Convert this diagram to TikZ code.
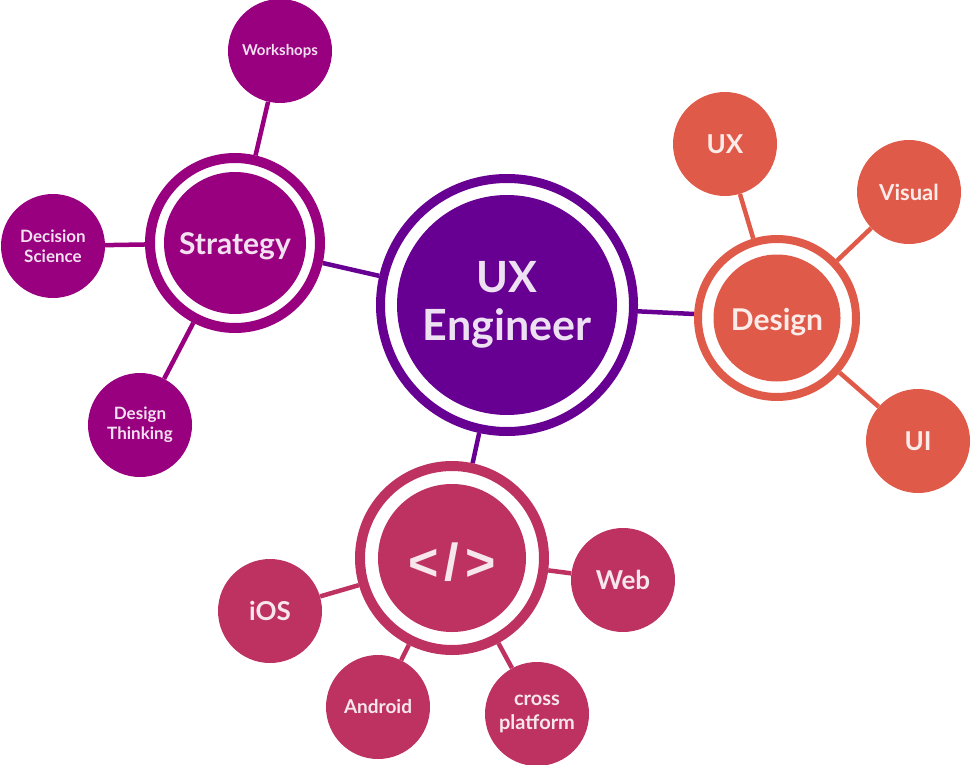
\documentclass[tikz,border=0pt]{standalone}
\usepackage{fontspec}
\setmainfont{Lato}
\newfontfamily\codefont{Liberation Sans}
\usetikzlibrary{backgrounds}
\definecolor{uxpur}{HTML}{670092}
\definecolor{stratmag}{HTML}{99007F}
\definecolor{designred}{HTML}{E05A4A}
\definecolor{codepink}{HTML}{BE3261}
\newcommand{\fs}[1]{\bfseries\fontsize{#1}{1.17\dimexpr#1pt\relax}\selectfont}
\newcommand{\dropby}[2]{\raisebox{-#1}[\height][\depth]{#2}}

\begin{document}
\begin{tikzpicture}[x=1pt, y=-1pt,
    ring/.style={circle, draw=#1, line width=9pt, fill=white, inner sep=0pt},
    core/.style={circle, fill=#1, inner sep=0pt, text=white!88!#1, align=center},
    leaf/.style={circle, fill=#1, inner sep=0pt, minimum size=104pt, text=white!88!#1, align=center},
    link/.style={draw=#1, line width=4.5pt}]
  \useasboundingbox (0,0) rectangle (971,765);

  % hubs
  \node[ring=uxpur, minimum size=253pt] (UX) at (507,305) {};
  \node[core=uxpur, minimum size=220pt, font=\fs{43}] (UXc) at (UX) {UX\\[-2pt]Engineer};

  \node[ring=stratmag, line width=10pt, minimum size=170pt] (S) at (235,243) {};
  \node[core=stratmag, minimum size=142pt, font=\fs{30}] (Sc) at (S) {\dropby{3pt}{Strategy}};

  \node[ring=designred, line width=8pt, minimum size=158pt] (D) at (777,318) {};
  \node[core=designred, minimum size=127pt, font=\fs{30}] (Dc) at (D) {\dropby{4pt}{Design}};

  \node[ring=codepink, line width=10pt, minimum size=184pt] (C) at (452,558) {};
  \node[core=codepink, minimum size=148pt, font=\codefont\fs{52}] (Cc) at (C)
    {\dropby{4pt}{<\hspace{6pt}/\hspace{6pt}>}};

  % leaves
  \node[leaf=stratmag, font=\fs{15}] (Sw) at (280,51) {Workshops};
  \node[leaf=stratmag, font=\fs{17}] (Sd) at (53,246) {Decision\\Science};
  \node[leaf=stratmag, font=\fs{17}] (St) at (140,425) {Design\\Thinking};

  \node[leaf=designred, font=\fs{26}] (Dx) at (725,144) {UX};
  \node[leaf=designred, font=\fs{22}] (Dv) at (909,192) {Visual};
  \node[leaf=designred, font=\fs{26}] (Du) at (918,441) {UI};

  \node[leaf=codepink, font=\fs{26}] (Ci) at (270,611) {iOS};
  \node[leaf=codepink, font=\fs{19}] (Ca) at (378,707) {Android};
  \node[leaf=codepink, font=\fs{20}] (Cx) at (537,714) {cross\\platform};
  \node[leaf=codepink, font=\fs{26}] (Cw) at (623,580) {Web};

  \begin{pgfonlayer}{background}
    \draw[link=uxpur] (UX) -- (S);
    \draw[link=uxpur] (UX) -- (D);
    \draw[link=uxpur] (UX) -- (C);
    \foreach \leafnode in {Sw,Sd,St}
      \draw[link=stratmag] (S) -- (\leafnode);
    \foreach \leafnode in {Dx,Dv,Du}
      \draw[link=designred] (D) -- (\leafnode);
    \foreach \leafnode in {Ci,Ca,Cx,Cw}
      \draw[link=codepink] (C) -- (\leafnode);
  \end{pgfonlayer}
\end{tikzpicture}
\end{document}
